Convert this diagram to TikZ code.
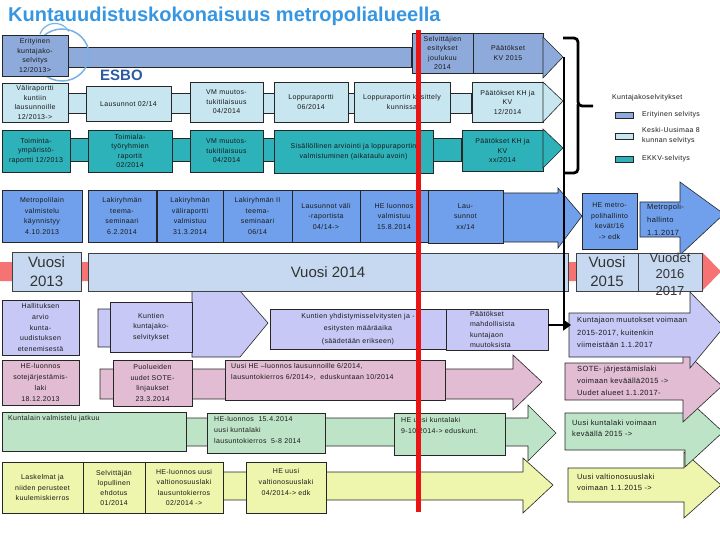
\documentclass[tikz,border=0pt]{standalone}
\usepackage{fontspec}
\setmainfont{Liberation Sans}
\newfontfamily\smf{Liberation Sans}[LetterSpace=5]
\usetikzlibrary{arrows.meta}
\pgfdeclarelayer{bg}
\pgfsetlayers{bg,main}
\definecolor{ttl}{RGB}{55,150,225}
\definecolor{esbo}{RGB}{45,90,165}
\definecolor{blA}{RGB}{142,170,219}
\definecolor{cyA}{RGB}{200,230,240}
\definecolor{tlA}{RGB}{45,178,186}
\definecolor{blB}{RGB}{112,160,236}
\definecolor{vuo}{RGB}{198,217,241}
\definecolor{sal}{RGB}{245,115,115}
\definecolor{lav}{RGB}{200,200,246}
\definecolor{pnk}{RGB}{225,188,210}
\definecolor{grn}{RGB}{190,228,200}
\definecolor{yel}{RGB}{238,245,172}
\definecolor{swl}{RGB}{120,178,228}
\definecolor{redl}{RGB}{235,20,20}
\definecolor{ink}{RGB}{25,25,25}
\newcommand{\fsz}[2]{\smf\fontsize{#1}{#2}\selectfont}
\newcommand{\bx}[7]{\node[#6, minimum width={#4-#2}, minimum height={#5-#3}] (#1) at ({(#2+#4)/2},{(#3+#5)/2}) {#7};}
\begin{document}
\begin{tikzpicture}[x=1pt,y=-1pt,
  box/.style={draw=black!85, line width=0.6pt, align=center, inner sep=1pt, text=ink, font=\fsz{7}{9.5}},
  box4/.style={box, font=\fsz{7}{10.5}},
  box6/.style={box, inner sep=0pt, font=\fsz{7}{10.8}},
  vbox/.style={draw=black!75, line width=0.7pt, fill=vuo, align=center, inner sep=0pt, text=black!80, font=\rmfamily\fontsize{15}{19}\selectfont},
  lbl/.style={align=left, inner sep=0pt, text=ink, font=\fsz{7}{11}},
  big/.style={draw=black!85, line width=0.6pt},
  thick3/.style={line width=2.8pt, black}]
\useasboundingbox (0,0) rectangle (720,540);

% decorative swirl
\draw[swl, line width=1.5pt] (62,55) ellipse [x radius=27, y radius=26];
\draw[swl, line width=1.2pt] (40,34) arc[start angle=200, end angle=330, radius=16];

% title
\node[anchor=base west, font=\rmfamily\bfseries\fontsize{20}{22}\selectfont, text=ttl, inner sep=0pt] (title) at (8,22) {Kuntauudistuskokonaisuus metropolialueella};
\node[anchor=base west, font=\rmfamily\bfseries\fontsize{15}{16}\selectfont, text=esbo, inner sep=0pt] (esbo) at (100,81) {ESBO};

% row 1
\bx{r11}{2}{35}{68}{76}{box,fill=blA}{Erityinen\\kuntajako-\\selvitys\\12/2013>}
\bx{r12}{412}{33}{473}{73}{box,fill=blA}{Selvittäjien\\esitykset\\joulukuu\\2014}
\bx{r13}{473}{33}{543}{73}{box,fill=blA}{Päätökset\\KV 2015}
\filldraw[big, fill=blA] (543,37) -- (563,57) -- (543,78) -- cycle;

% row 2
\bx{r21}{2}{83}{68}{122}{box,fill=cyA}{Väliraportti\\kuntiin\\lausunnoille\\12/2013->}
\bx{r22}{86}{86}{171}{121}{box,fill=cyA}{Lausunnot 02/14}
\bx{r23}{190}{82}{263}{122}{box,fill=cyA}{VM muutos-\\tukitilaisuus\\04/2014}
\bx{r24}{274}{82}{348}{122}{box,fill=cyA}{Loppuraportti\\06/2014}
\bx{r25}{354}{82}{450}{122}{box,fill=cyA}{Loppuraportin käsittely\\kunnissa}
\bx{r26}{472}{82}{543}{122}{box,fill=cyA}{Päätökset KH ja\\KV\\12/2014}
\filldraw[big, fill=cyA] (543,82) -- (563,101) -- (543,122) -- cycle;

% row 3
\bx{r31}{2}{130}{70}{172}{box,fill=tlA}{Toiminta-\\ympäristö-\\raportti 12/2013}
\bx{r32}{88}{130}{172}{172}{box,fill=tlA}{Toimiala-\\työryhmien\\raportit\\02/2014}
\bx{r33}{190}{130}{263}{172}{box,fill=tlA}{VM muutos-\\tukitilaisuus\\04/2014}
\bx{r34}{274}{130}{433}{173}{box,fill=tlA}{Sisällöllinen arviointi ja loppuraportin\\valmistuminen (aikataulu avoin)}
\bx{r35}{462}{130}{543}{171}{box,fill=tlA}{Päätökset KH ja\\KV\\xx/2014}
\filldraw[big, fill=tlA] (543,129) -- (563,148) -- (543,168) -- cycle;

% legend
\node[anchor=base west, lbl] (lgT) at (612,100) {Kuntajakoselvitykset};
\node[draw=black!85, fill=blA, minimum width=18, minimum height=6, inner sep=0pt] (lg1) at (624,115) {};
\node[anchor=west, lbl] (lg1t) at (642,115) {Erityinen selvitys};
\node[draw=black!85, fill=cyA, minimum width=18, minimum height=6, inner sep=0pt] (lg2) at (624,136.5) {};
\node[anchor=west, lbl, font=\fsz{7}{10}] (lg2t) at (642,136) {Keski-Uusimaa 8\\kunnan selvitys};
\node[draw=black!85, fill=tlA, minimum width=18, minimum height=6, inner sep=0pt] (lg3) at (624,159) {};
\node[anchor=west, lbl] (lg3t) at (642,159) {EKKV-selvitys};

% row 4
\bx{r41}{2}{190}{82}{242}{box4,fill=blB}{Metropolilain\\valmistelu\\käynnistyy\\4.10.2013}
\bx{r42}{88}{190}{156}{242}{box4,fill=blB}{Lakiryhmän\\teema-\\seminaari\\6.2.2014}
\bx{r43}{157}{190}{223}{242}{box4,fill=blB}{Lakiryhmän\\väliraportti\\valmistuu\\31.3.2014}
\bx{r44}{223}{190}{292}{242}{box4,fill=blB}{Lakiryhmän II\\teema-\\seminaari\\06/14}
\bx{r45}{292}{190}{360}{242}{box4,fill=blB}{Lausunnot väli\\-raportista\\04/14->}
\bx{r46}{360}{190}{428}{242}{box4,fill=blB}{HE luonnos\\valmistuu\\15.8.2014}
\bx{r47}{428}{190}{503}{243}{box4,fill=blB}{Lau-\\sunnot\\xx/14}
\bx{r48}{582}{193}{637}{249}{box4,fill=blB}{HE metro-\\polihallinto\\kevät/16\\-> edk}
\node[lbl, anchor=west, font=\fsz{7.5}{13}] (metro) at (647,220) {Metropoli-\\hallinto\\1.1.2017};

% row 5
\bx{v13}{12}{252}{81}{291}{vbox}{Vuosi\\2013}
\bx{v14}{88}{253}{568}{291}{vbox}{Vuosi 2014}
\bx{v15}{576}{253}{638}{291}{vbox}{Vuosi\\2015}
\bx{v16}{638}{253}{702}{291}{vbox}{}
\node[align=center, inner sep=0pt, text=black!80, font=\rmfamily\fontsize{13}{16.5}\selectfont] (v16t) at (670,274) {Vuodet\\2016\\2017};

% row 6
\bx{r61}{2}{300}{79}{355}{box6,fill=lav}{Hallituksen\\arvio\\kunta-\\uudistuksen\\etenemisestä}
\bx{r62}{110}{302}{192}{352}{box6,fill=lav}{Kuntien\\kuntajako-\\selvitykset}
\bx{r63}{270}{309}{446}{349}{box,fill=lav,font=\fsz{7}{12.5}}{Kuntien yhdistymisselvitysten ja -\\esitysten määräaika\\(säädetään erikseen)}
\node[box, fill=lav, text width=54pt, align=left, inner xsep=24pt, inner ysep=0pt, minimum height=41, font=\fsz{7}{10.3}] (r64) at (497,329.5) {Päätökset\\mahdollisista\\kuntajaon\\muutoksista};
\node[lbl, anchor=north west, font=\fsz{7.5}{12.5}] (kAt) at (577,317) {Kuntajaon muutokset voimaan\\2015-2017, kuitenkin\\viimeistään 1.1.2017};
\coordinate (kA) at (571,325);

% row 7
\bx{r71}{2}{360}{79}{405}{box6,fill=pnk}{HE-luonnos\\sotejärjestämis-\\laki\\18.12.2013}
\bx{r72}{113}{360}{192}{406}{box6,fill=pnk}{Puolueiden\\uudet SOTE-\\linjaukset\\23.3.2014}
\bx{r73}{225}{360}{445}{400}{box,fill=pnk}{}
\node[lbl, anchor=north west] (r73t) at (231,363) {Uusi HE –luonnos lausunnoille 6/2014,\\lausuntokierros 6/2014>,\ \ eduskuntaan 10/2014};
\node[lbl, anchor=north west, font=\fsz{7.5}{12}] (sotet) at (577,366) {SOTE- järjestämislaki\\voimaan keväällä2015 ->\\Uudet alueet 1.1.2017-};

% row 8
\bx{r81}{2}{412}{186}{451}{box,fill=grn}{}
\node[lbl, anchor=north west] (r81t) at (8,415) {Kuntalain valmistelu jatkuu};
\bx{r82}{207}{413}{325}{453}{box,fill=grn}{}
\node[lbl, anchor=north west] (r82t) at (214,416) {HE-luonnos\ \ 15.4.2014\\uusi kuntalaki\\lausuntokierros\ \ 5-8 2014};
\bx{r83}{394}{413}{505}{455}{box,fill=grn}{}
\node[lbl, anchor=north west] (r83t) at (401,417) {HE uusi kuntalaki\\9-10/2014-> eduskunt.};
\node[lbl, anchor=north west, font=\fsz{7.5}{10.5}] (klt) at (572,420) {Uusi kuntalaki voimaan\\keväällä 2015 ->};

% row 9
\bx{r91}{2}{462}{83}{513}{box,fill=yel,font=\fsz{7}{10.3}}{Laskelmat ja\\niiden perusteet\\kuulemiskierros}
\bx{r92}{83}{462}{145}{513}{box,fill=yel,font=\fsz{7}{10}}{Selvittäjän\\lopullinen\\ehdotus\\01/2014}
\bx{r93}{145}{462}{223}{513}{box,fill=yel,font=\fsz{7}{10.3}}{HE-luonnos uusi\\valtionosuuslaki\\lausuntokierros\\02/2014 ->}
\bx{r94}{246}{462}{326}{513}{box,fill=yel}{}
\node[align=center, inner sep=0pt, text=ink, font=\fsz{7}{10.8}] (r94t) at (286,482) {HE uusi\\valtionosuuslaki\\04/2014-> edk};
\node[lbl, anchor=north west, font=\fsz{7.5}{10.5}] (vot) at (577,474) {Uusi valtionosuuslaki\\voimaan 1.1.2015 ->};

\begin{pgfonlayer}{bg}
  % bands
  \filldraw[big, fill=blA] (r11.east |- 0,47) rectangle (r12.west |- 0,67);
  \filldraw[big, fill=cyA] (r21.east |- 0,93) rectangle (r26.west |- 0,113);
  \filldraw[big, fill=tlA] (r31.east |- 0,138) rectangle (r35.west |- 0,161);
  % row 4 big arrow
  \filldraw[big, fill=blB] (428,193) -- (558,193) -- (558,188) -- (582,216) -- (558,248) -- (558,242) -- (428,242) -- cycle;
  \filldraw[big, fill=blB] (640,202) -- (680,202) -- (680,182) -- (724,214) -- (680,255) -- (680,237) -- (640,237) -- cycle;
  % timeline
  \fill[sal] (0,262) -- (703,262) -- (703,253) -- (721,271.5) -- (703,290) -- (703,281) -- (0,281) -- cycle;
  % right arrows (lower first)
  \filldraw[big, fill=yel] (568,468) -- (684,468) -- (684,452) -- (721,485) -- (684,518) -- (684,502) -- (568,502) -- cycle;
  \filldraw[big, fill=grn] (565,413) -- (685,413) -- (685,397) -- (723,432) -- (685,467) -- (685,450) -- (565,450) -- cycle;
  \filldraw[big, fill=pnk] (565,363) -- (683,363) -- (683,350) -- (722,386) -- (683,422) -- (683,400) -- (565,400) -- cycle;
  \filldraw[big, fill=lav] (569,313) -- (690,313) -- (690,292) -- (724,327) -- (690,368) -- (690,357) -- (569,357) -- cycle;
  % left long arrows
  \filldraw[big, fill=yel] (223,472) -- (523,472) -- (523,458) -- (553,485) -- (523,513) -- (523,500) -- (223,500) -- cycle;
  \filldraw[big, fill=grn] (186,418) -- (528,418) -- (528,405) -- (556,433) -- (528,461) -- (528,446) -- (186,446) -- cycle;
  \filldraw[big, fill=pnk] (100,369) -- (513,369) -- (513,355) -- (542,382) -- (513,410) -- (513,399) -- (100,399) -- cycle;
  \filldraw[big, fill=lav] (98,309) -- (192,309) -- (192,291) -- (240,291) -- (268,323) -- (240,357) -- (192,357) -- (192,347) -- (98,347) -- cycle;
\end{pgfonlayer}

% brace and black connector
\draw[thick3, rounded corners=4pt] (563,38) -- (578,38) -- (578,106) -- (593,106);
\draw[thick3, rounded corners=4pt] (563,173) -- (578,173) -- (578,104);
\draw[thick3] (564,57) -- (564,322);
\draw[thick3, -{Triangle[length=8pt,width=11pt]}] (r64.east |- 0,325) -- (kA);

% red line
\coordinate (redT) at (418,30);
\coordinate (redB) at (418,512);
\draw[redl, line width=5pt] (redT) -- (redB);
\end{tikzpicture}
\end{document}
